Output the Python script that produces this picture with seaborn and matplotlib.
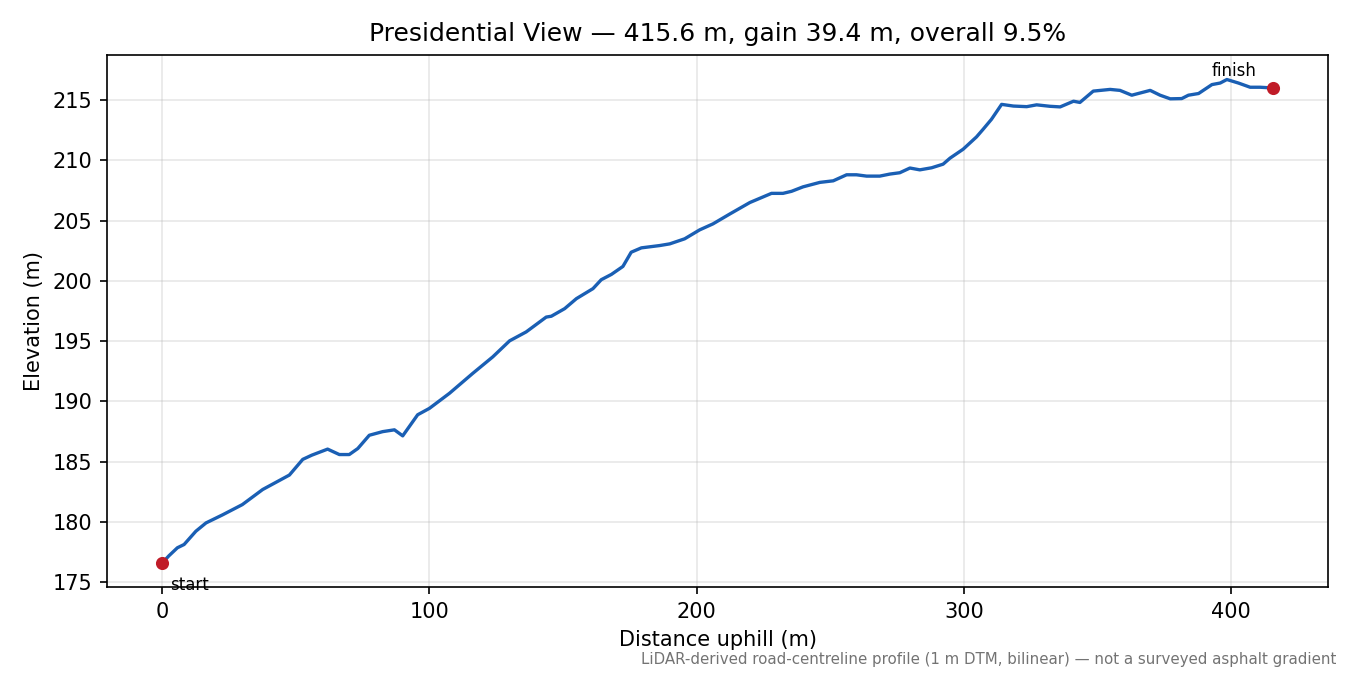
"""
Perfil de elevação - Presidential View
"""
import matplotlib
matplotlib.use("Agg")
import matplotlib.pyplot as plt
import seaborn as sns
import pandas as pd

# distância ao longo da estrada (m)
distance_m = [
    0, 2.5, 5.7, 8.2, 12.6, 16.4, 22.6, 30, 37.6, 47.6, 52.6, 56, 61.9, 66.3,
    70, 73.2, 77.5, 82.5, 86.9, 90, 95.6, 100, 107.5, 116.2, 123.7, 130, 136.2,
    143.7, 145.6, 150.6, 155, 161.2, 164.3, 168.1, 172.4, 175.5, 179.3, 186.1,
    189.9, 195.5, 201.1, 206.1, 212.4, 219.9, 228, 232.3, 235.5, 239.8, 246.1,
    251.1, 256.1, 259.8, 263.6, 268.5, 272.3, 276, 279.8, 283.5, 287.9, 292.2,
    294.8, 299.7, 304.7, 307.2, 310.3, 314.1, 318.5, 323.5, 327.2, 332.2, 336,
    341, 343.4, 348.4, 354.7, 358.4, 362.8, 369.7, 373.4, 377.2, 381.5, 384,
    387.8, 392.8, 395.9, 398.4, 402.7, 407.1, 410.8, 415.6,
]
elevation_m = [
    176.6, 177.2, 177.87, 178.14, 179.24, 179.93, 180.6, 181.45, 182.7, 183.9,
    185.2, 185.55, 186.05, 185.6, 185.6, 186.1, 187.2, 187.5, 187.65, 187.15,
    188.9, 189.43, 190.68, 192.33, 193.7, 195.03, 195.77, 197.0, 197.07, 197.7,
    198.53, 199.36, 200.1, 200.54, 201.2, 202.38, 202.74, 202.93, 203.07, 203.49,
    204.23, 204.73, 205.55, 206.5, 207.26, 207.26, 207.43, 207.8, 208.17, 208.3,
    208.8, 208.8, 208.69, 208.69, 208.86, 208.97, 209.36, 209.21, 209.38, 209.68,
    210.18, 210.92, 211.94, 212.58, 213.4, 214.64, 214.5, 214.45, 214.6, 214.48,
    214.43, 214.9, 214.8, 215.74, 215.88, 215.8, 215.4, 215.8, 215.4, 215.1,
    215.12, 215.4, 215.54, 216.28, 216.41, 216.7, 216.41, 216.06, 216.06, 216.0,
]

title = "Presidential View \u2014 415.6 m, gain 39.4 m, overall 9.5%"
footnote = ("LiDAR-derived road-centreline profile (1 m DTM, bilinear) "
            "\u2014 not a surveyed asphalt gradient")

df = pd.DataFrame({"dist": distance_m, "elev": elevation_m})

fig, ax = plt.subplots(figsize=(9, 4.5), dpi=150)

sns.lineplot(data=df, x="dist", y="elev", ax=ax, color="#1a5fb4", linewidth=1.6)

# pontos de início e fim
ends = df.iloc[[0, -1]]
ax.scatter(ends["dist"], ends["elev"], color="#c01c28", s=28, zorder=3)
ax.annotate("start", (ends["dist"].iloc[0], ends["elev"].iloc[0]),
            xytext=(4, -6), textcoords="offset points",
            ha="left", va="top", fontsize=8)
ax.annotate("finish", (ends["dist"].iloc[1], ends["elev"].iloc[1]),
            xytext=(-8, 4), textcoords="offset points",
            ha="right", va="bottom", fontsize=8)

ax.set_title(title, fontsize=12, pad=7)
ax.set_xlabel("Distance uphill (m)")
ax.set_ylabel("Elevation (m)")
ax.grid(True, alpha=0.3)
ax.set_yticks([175, 180, 185, 190, 195, 200, 205, 210, 215])

fig.text(0.99, 0.012, footnote, ha="right", va="bottom", fontsize=7.2, color="0.45")

fig.subplots_adjust(left=0.079, right=0.984, top=0.918, bottom=0.130)
fig.savefig("out.png", dpi=150)
